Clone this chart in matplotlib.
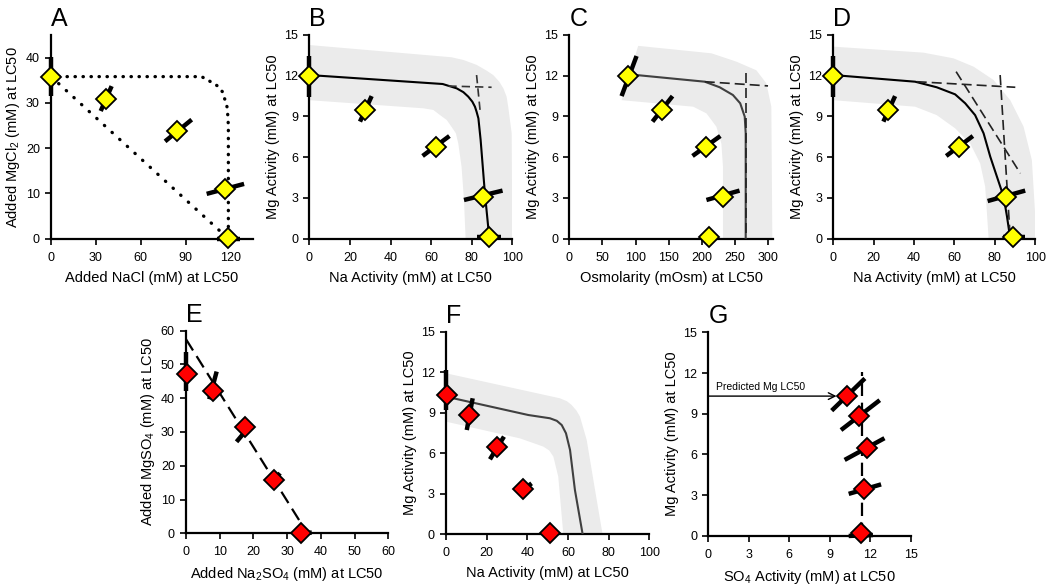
import matplotlib
matplotlib.use("Agg")
import matplotlib.pyplot as plt
import numpy as np

plt.rcParams['font.family'] = ['Liberation Sans', 'DejaVu Sans']
plt.rcParams['mathtext.fontset'] = 'custom'
plt.rcParams['mathtext.rm'] = 'Liberation Sans'
plt.rcParams['mathtext.it'] = 'Liberation Sans:italic'

YELLOW = '#FFFF00'
RED = '#FF0000'
BAND = '#EBEBEB'

# ---------------- Panel A ----------------
a_x = [0, 36.5, 84.4, 116.2, 118.5]
a_y = [35.8, 30.75, 23.7, 10.95, 0.2]
a_err_x0 = [0, 33.2, 76.2, 104.0, 110.7]
a_err_y0 = [31.5, 28.2, 21.5, 9.9, 0.0]
a_err_x1 = [0, 40.5, 94.0, 129.0, 126.2]
a_err_y1 = [40.2, 33.7, 26.3, 12.1, 0.0]
a_curve_x = [0, 100.6, 106, 111, 114.7, 117.8, 118.5, 118.5]
a_curve_y = [35.8, 35.8, 34.8, 33.8, 32.4, 28.9, 25.0, 0]
a_diag_x = [0, 118.5]
a_diag_y = [35.8, 0]

# ---------------- Panel B ----------------
b_x = [0, 27.6, 62.2, 85.4, 88.7]
b_y = [11.98, 9.5, 6.75, 3.09, 0.1]
b_err_x0 = [0, 24.96, 55.8, 76.2, 82.4]
b_err_y0 = [10.46, 8.62, 6.09, 2.85, 0.1]
b_err_x1 = [0, 30.7, 69.0, 95.2, 94.3]
b_err_y1 = [13.45, 10.5, 7.56, 3.54, 0.1]
b_line_x = [0, 65.7, 72.6, 75.9, 78.3, 80.3, 81.6, 82.4, 83.3, 84.4, 86.5, 88.7]
b_line_y = [12.05, 11.39, 11.07, 10.79, 10.46, 10.09, 9.72, 9.35, 8.86, 7.27, 3.34, 0]
b_dash_h_x = [68.5, 89.8]
b_dash_h_y = [11.24, 11.15]
b_dash_v_x = [82.4, 84.1]
b_dash_v_y = [12.05, 9.48]
b_band_up_x = [0, 70, 75.9, 82.4, 87.4, 90.6, 93.6, 95.6, 97.2, 98, 99.7, 100]
b_band_up_y = [14.26, 13.36, 13.16, 12.8, 12.37, 12.05, 11.56, 11.07, 10.46, 9.7, 7.76, 0]
b_band_lo_x = [0, 56.2, 61.1, 64.4, 67.7, 70, 72.2, 73.4, 75, 76.2, 77]
b_band_lo_y = [10.2, 9.6, 9.48, 9.1, 8.74, 8.25, 7.76, 7.0, 5.3, 2.85, 0]

# ---------------- Panel C ----------------
c_x = [89, 140, 206, 232, 210.5]
c_y = [12.0, 9.5, 6.75, 3.1, 0.1]
c_err_x0 = [78.9, 125.6, 186, 207]
c_err_y0 = [10.5, 8.62, 6.09, 2.85]
c_err_x1 = [101.5, 155.8, 228, 257]
c_err_y1 = [13.45, 10.5, 7.56, 3.54]
c_line_x = [101.5, 204.5, 227, 247, 258, 264.8, 266.3, 266.3]
c_line_y = [12.05, 11.56, 11.15, 10.58, 9.97, 8.99, 7.76, 0]
c_dash_h_x = [204.5, 300]
c_dash_h_y = [11.56, 11.25]
c_dash_v_x = [266.3, 266.3]
c_dash_v_y = [12.2, 0]
c_band_up_x = [79, 104, 214.6, 252, 282.4, 297.5, 305, 306.5]
c_band_up_y = [10.2, 14.2, 13.65, 13.04, 12.4, 11.44, 9.72, 0]
c_band_lo_x = [79, 187, 207, 222, 229.6, 232, 232]
c_band_lo_y = [10.2, 9.72, 9.23, 8.25, 7.0, 5.3, 0]

# ---------------- Panel D ----------------
d_x = [0, 27.3, 62.1, 85.3, 88.9]
d_y = [12.0, 9.5, 6.75, 3.1, 0.1]
d_err_x0 = [0, 24.8, 55.9, 76.4, 84.0]
d_err_y0 = [10.46, 8.62, 6.09, 2.77, 0.1]
d_err_x1 = [0, 30.6, 69.1, 95.0, 95.0]
d_err_y1 = [13.45, 10.5, 7.56, 3.54, 0.1]
d_line_x = [0, 40.5, 51.2, 60.3, 65.3, 70.2, 74.4, 77.7, 81.0, 84.3, 86.0, 87.6]
d_line_y = [12.05, 11.56, 11.15, 10.63, 9.97, 9.1, 7.76, 6.04, 4.57, 3.1, 1.62, 0]
d_dash_h_x = [41.3, 90.1]
d_dash_h_y = [11.56, 11.15]
d_dash_v_x = [82.6, 87.6]
d_dash_v_y = [12.05, 0]
d_dash_d_x = [60.8, 92.6]
d_dash_d_y = [12.3, 4.81]
d_band_up_x = [0, 44.6, 59.5, 69.4, 79.3, 87.6, 94.2, 98.3, 100, 100]
d_band_up_y = [14.14, 13.7, 13.28, 12.67, 11.69, 10.2, 8.25, 5.79, 1.62, 0]
d_band_lo_x = [0, 40.5, 51.2, 60.3, 67.8, 72.7, 75.2, 76.9]
d_band_lo_y = [10.2, 9.72, 9.1, 8.13, 7.0, 5.55, 3.83, 0]

# ---------------- Panel E ----------------
e_x = [0.4, 7.9, 17.5, 26.2, 34.1]
e_y = [47.2, 42.2, 31.6, 15.8, 0.0]
e_err_x0 = [0, 6.9, 15.0, 24.9, 32.3]
e_err_y0 = [42.0, 39.7, 27.1, 14.3, 0.0]
e_err_x1 = [0, 9.1, 19.2, 27.9, 37.3]
e_err_y1 = [53.8, 47.9, 32.1, 17.8, 0.2]
e_dash_x = [0, 36]
e_dash_y = [57.5, 0]

# ---------------- Panel F ----------------
f_x = [0.7, 11.5, 25.2, 38.0, 51.1]
f_y = [10.3, 8.83, 6.49, 3.36, 0.12]
f_err_x0 = [0, 10.2, 21.6, 35.6]
f_err_y0 = [9.2, 7.72, 5.55, 3.03]
f_err_x1 = [0, 13.1, 28.5, 42.1]
f_err_y1 = [12.16, 10.07, 7.23, 3.77]
f_line_x = [0, 40.5, 51.1, 54.5, 56.9, 59, 61, 63.4, 67.2]
f_line_y = [10.19, 8.83, 8.59, 8.40, 8.09, 7.48, 6.24, 3.28, 0]
f_band_up_x = [0, 56, 59.5, 61.8, 64.2, 65.9, 69.2, 73.3, 77]
f_band_up_y = [11.92, 10.07, 9.85, 9.57, 9.15, 8.71, 6.98, 3.28, 0]
f_band_lo_x = [0, 36.4, 47.9, 50.8, 52.8, 55.2, 57.7]
f_band_lo_y = [8.34, 7.1, 6.49, 6.2, 5.75, 4.27, 0]

# ---------------- Panel G ----------------
g_x = [10.25, 11.17, 11.74, 11.54, 11.29]
g_y = [10.31, 8.84, 6.46, 3.44, 0.2]
g_err_x0 = [9.14, 9.83, 10.1, 10.4, 10.4]
g_err_y0 = [9.23, 7.8, 5.6, 3.1, 0.0]
g_err_x1 = [11.6, 12.7, 13.05, 12.8, 12.2]
g_err_y1 = [11.6, 10.0, 7.2, 3.8, 0.07]
g_dash_x = [11.4, 11.4]
g_dash_y = [0, 12.1]
g_arrow_start = (0, 10.3)
g_arrow_end = (9.5, 10.3)
g_arrow_text = "Predicted Mg LC50"

fig = plt.figure(figsize=(10.5, 5.85), dpi=100)

TICK_FS = 9
LABEL_FS = 10.5
LETTER_FS = 18


def style(ax, xlim, ylim, xticks, yticks, xlabel, ylabel, letter):
    ax.set_xlim(*xlim)
    ax.set_ylim(*ylim)
    ax.set_xticks(xticks)
    ax.set_yticks(yticks)
    ax.tick_params(labelsize=TICK_FS, width=1.2, length=4, direction='out')
    ax.tick_params(axis='x', pad=5.5)
    ax.tick_params(axis='y', pad=4)
    for s in ['top', 'right']:
        ax.spines[s].set_visible(False)
    for s in ['left', 'bottom']:
        ax.spines[s].set_linewidth(1.6)
    ax.set_xlabel(xlabel, fontsize=LABEL_FS, labelpad=5)
    ax.set_ylabel(ylabel, fontsize=LABEL_FS, labelpad=3)
    ax.text(0.0, 1.02, letter, transform=ax.transAxes, fontsize=LETTER_FS,
            ha='left', va='bottom')


def points(ax, xs, ys, ex0, ey0, ex1, ey1, color):
    for x0, y0, x1, y1 in zip(ex0, ey0, ex1, ey1):
        ax.plot([x0, x1], [y0, y1], color='black', lw=3.2,
                solid_capstyle='butt', clip_on=False, zorder=4)
    ax.plot(xs, ys, linestyle='none', marker='D', ms=10.5, mfc=color,
            mec='black', mew=1.3, clip_on=False, zorder=5)


def band(ax, ux, uy, lx, ly):
    px = list(ux) + list(lx)[::-1]
    py = list(uy) + list(ly)[::-1]
    ax.fill(px, py, color=BAND, lw=0, zorder=1)


# A
axA = fig.add_axes([0.0486, 0.592, 0.1924, 0.3482])
axA.plot(a_curve_x, a_curve_y, linestyle=(0, (0.1, 2.3)), color='black',
         lw=2.4, dash_capstyle='round', zorder=2)
axA.plot(a_diag_x, a_diag_y, linestyle=(0, (0.1, 3.0)), color='black',
         lw=2.4, dash_capstyle='round', zorder=2)
points(axA, a_x, a_y, a_err_x0, a_err_y0, a_err_x1, a_err_y1, YELLOW)
style(axA, (0, 135), (0, 45), [0, 30, 60, 90, 120], [0, 10, 20, 30, 40],
      'Added NaCl (mM) at LC50', 'Added MgCl$_2$ (mM) at LC50', 'A')

# B
axB = fig.add_axes([0.2946, 0.592, 0.1933, 0.3482])
band(axB, b_band_up_x, b_band_up_y, b_band_lo_x, b_band_lo_y)
axB.plot(b_line_x, b_line_y, color='black', lw=1.5, zorder=3)
axB.plot(b_dash_h_x, b_dash_h_y, color='#333333', lw=1.2, ls=(0, (5, 3)), zorder=3)
axB.plot(b_dash_v_x, b_dash_v_y, color='#333333', lw=1.2, ls=(0, (5, 3)), zorder=3)
points(axB, b_x, b_y, b_err_x0, b_err_y0, b_err_x1, b_err_y1, YELLOW)
style(axB, (0, 100), (0, 15), [0, 20, 40, 60, 80, 100], [0, 3, 6, 9, 12, 15],
      'Na Activity (mM) at LC50', 'Mg Activity (mM) at LC50', 'B')

# C
axC = fig.add_axes([0.5422, 0.592, 0.1943, 0.3482])
band(axC, c_band_up_x, c_band_up_y, c_band_lo_x, c_band_lo_y)
axC.plot(c_line_x, c_line_y, color='#404040', lw=1.5, zorder=3)
axC.plot(c_dash_h_x, c_dash_h_y, color='#222222', lw=1.2, ls=(0, (6, 3)), zorder=3)
axC.plot(c_dash_v_x, c_dash_v_y, color='#222222', lw=1.2, ls=(0, (6, 3)), zorder=3)
points(axC, c_x, c_y, c_err_x0, c_err_y0, c_err_x1, c_err_y1, YELLOW)
style(axC, (0, 308), (0, 15), [0, 50, 100, 150, 200, 250, 300],
      [0, 3, 6, 9, 12, 15],
      'Osmolarity (mOsm) at LC50', 'Mg Activity (mM) at LC50', 'C')

# D
axD = fig.add_axes([0.7936, 0.592, 0.1924, 0.3482])
band(axD, d_band_up_x, d_band_up_y, d_band_lo_x, d_band_lo_y)
axD.plot(d_line_x, d_line_y, color='black', lw=1.5, zorder=3)
for dx, dy in [(d_dash_h_x, d_dash_h_y), (d_dash_v_x, d_dash_v_y),
               (d_dash_d_x, d_dash_d_y)]:
    axD.plot(dx, dy, color='#222222', lw=1.2, ls=(0, (6, 3)), zorder=3)
points(axD, d_x, d_y, d_err_x0, d_err_y0, d_err_x1, d_err_y1, YELLOW)
style(axD, (0, 100), (0, 15), [0, 20, 40, 60, 80, 100], [0, 3, 6, 9, 12, 15],
      'Na Activity (mM) at LC50', 'Mg Activity (mM) at LC50', 'D')

# E
axE = fig.add_axes([0.1771, 0.0884, 0.1927, 0.3463])
axE.plot(e_dash_x, e_dash_y, color='black', lw=1.6, ls=(0, (6, 3)), zorder=3)
points(axE, e_x, e_y, e_err_x0, e_err_y0, e_err_x1, e_err_y1, RED)
style(axE, (0, 60), (0, 60), [0, 10, 20, 30, 40, 50, 60],
      [0, 10, 20, 30, 40, 50, 60],
      'Added Na$_2$SO$_4$ (mM) at LC50', 'Added MgSO$_4$ (mM) at LC50', 'E')

# F
axF = fig.add_axes([0.4248, 0.0867, 0.1936, 0.3463])
band(axF, f_band_up_x, f_band_up_y, f_band_lo_x, f_band_lo_y)
axF.plot(f_line_x, f_line_y, color='#404040', lw=1.5, zorder=3)
points(axF, f_x, f_y, f_err_x0, f_err_y0, f_err_x1, f_err_y1, RED)
style(axF, (0, 100), (0, 15), [0, 20, 40, 60, 80, 100], [0, 3, 6, 9, 12, 15],
      'Na Activity (mM) at LC50', 'Mg Activity (mM) at LC50', 'F')

# G
axG = fig.add_axes([0.6746, 0.0838, 0.1928, 0.3482])
axG.plot(g_dash_x, g_dash_y, color='black', lw=1.6, ls=(0, (6, 3)), zorder=3)
axG.annotate('', xy=g_arrow_end, xytext=g_arrow_start,
             arrowprops=dict(arrowstyle='->', color='black', lw=1.0,
                             mutation_scale=12, shrinkA=0, shrinkB=0),
             zorder=3)
axG.text(0.6, g_arrow_start[1] + 0.3, g_arrow_text, fontsize=7.5,
         ha='left', va='bottom')
points(axG, g_x, g_y, g_err_x0, g_err_y0, g_err_x1, g_err_y1, RED)
style(axG, (0, 15), (0, 15), [0, 3, 6, 9, 12, 15], [0, 3, 6, 9, 12, 15],
      'SO$_4$ Activity (mM) at LC50', 'Mg Activity (mM) at LC50', 'G')

fig.savefig('out.png', dpi=100)
